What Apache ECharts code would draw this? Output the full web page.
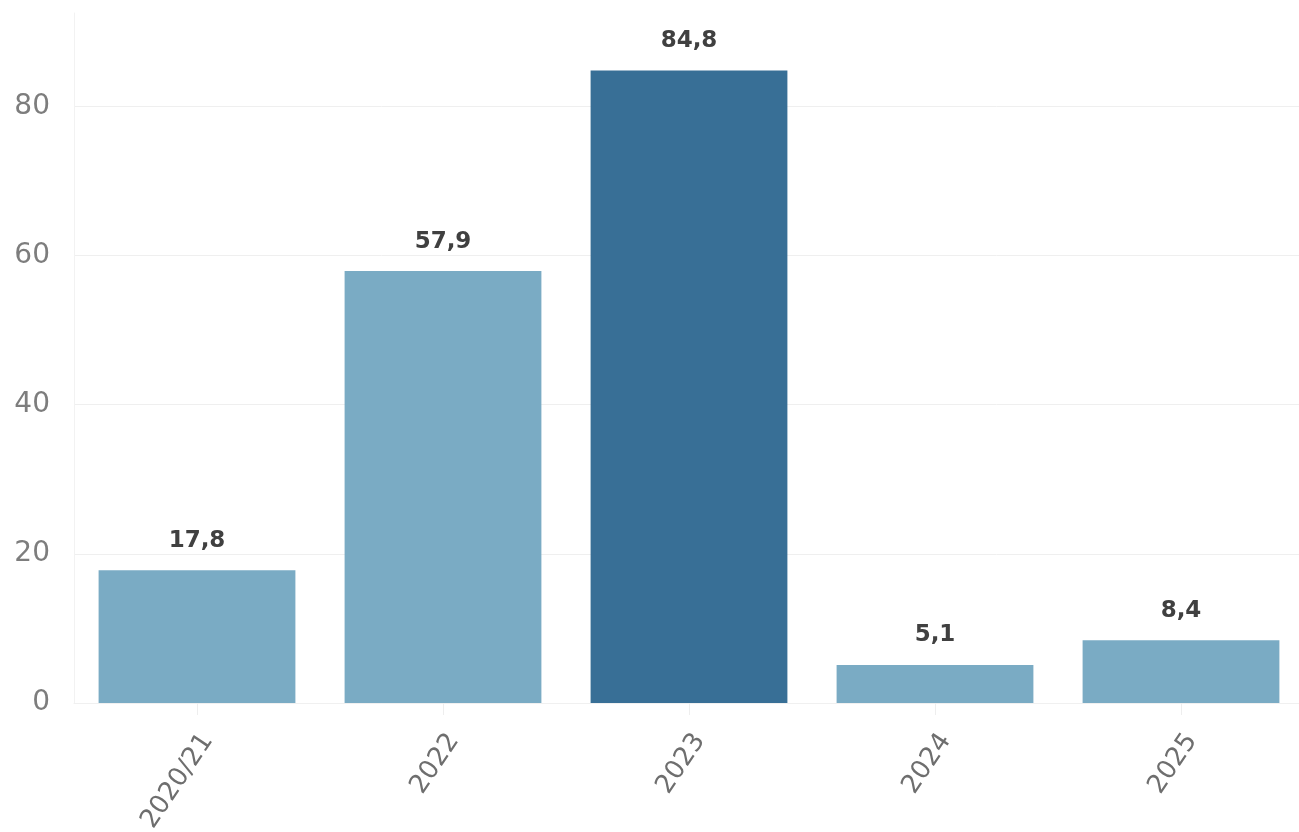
<!DOCTYPE html>
<html>
<head>
<meta charset="utf-8">
<script src="https://cdn.jsdelivr.net/npm/echarts@6/dist/echarts.min.js"></script>
<style>
html,body{margin:0;padding:0;background:#fff;overflow:hidden;}
#chart{width:1306px;height:832px;}
</style>
</head>
<body>
<div id="chart"></div>
<script>
const categories = ['2020/21', '2022', '2023', '2024', '2025'];
const values = [17.8, 57.9, 84.8, 5.1, 8.4];
const highlightIndex = 2;
const yTicks = [0, 20, 40, 60, 80];

const lightColor = '#7aabc4';
const darkColor = '#386f96';

const chart = echarts.init(document.getElementById('chart'));
chart.setOption({
  animation: false,
  backgroundColor: '#fff',
  grid: { left: 74, top: 13, right: 2, bottom: 129, containLabel: false, outerBoundsMode: 'none' },
  xAxis: {
    type: 'category',
    data: categories,
    axisLine: { show: true, lineStyle: { color: '#f0f0f0', width: 1 } },
    axisTick: { show: true, alignWithLabel: true, length: 12, lineStyle: { color: '#eeeeee' } },
    axisLabel: { rotate: 56, color: '#6e6e6e', fontSize: 26, fontFamily: 'DejaVu Sans', margin: 26, verticalAlign: 'top' }
  },
  yAxis: {
    type: 'value',
    min: 0,
    max: 92.5,
    interval: 20,
    axisLine: { show: true, lineStyle: { color: '#f2f2f2' } },
    axisTick: { show: false },
    splitLine: { show: true, lineStyle: { color: ['#efefef','#efefef','#efefef','#efefef','#efefef','rgba(0,0,0,0)'] } },
    axisLabel: {
      color: '#7d7d7d', fontSize: 28, fontFamily: 'DejaVu Sans', margin: 24,
      showMaxLabel: false,
      formatter: v => yTicks.includes(v) ? String(v) : ''
    }
  },
  series: [{
    type: 'bar',
    barCategoryGap: '20%',
    data: values.map((v, i) => ({ value: v, itemStyle: { color: i === highlightIndex ? darkColor : lightColor } })),
    label: {
      show: true, position: 'top', distance: 18,
      color: '#404040', fontSize: 23, fontWeight: 'bold', fontFamily: 'DejaVu Sans',
      formatter: p => String(p.value).replace('.', ',')
    }
  }]
});
</script>
</body>
</html>
